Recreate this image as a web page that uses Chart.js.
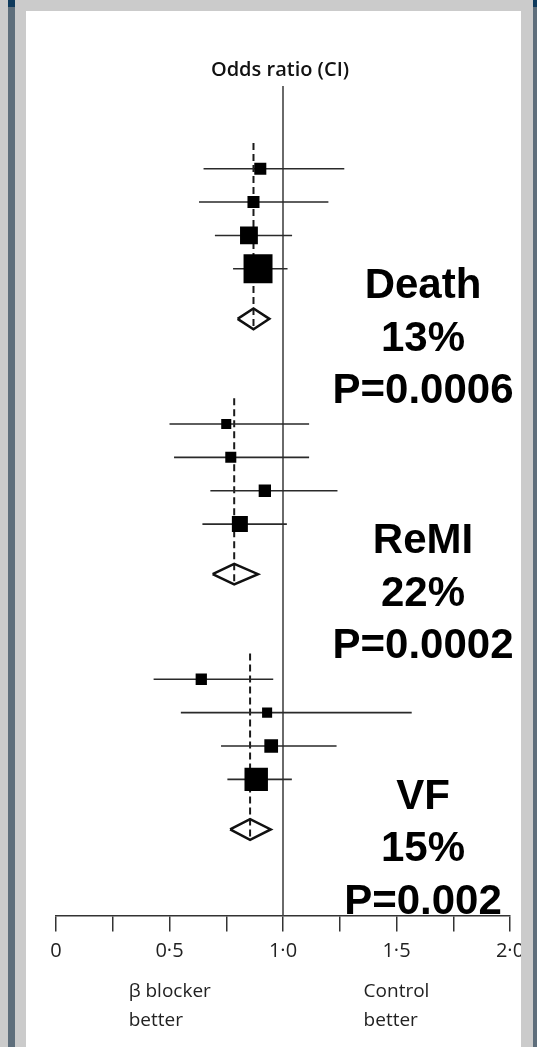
<!DOCTYPE html>
<html>
<head>
<meta charset="utf-8">
<title>Beta blocker odds ratios</title>
<script src="https://cdn.jsdelivr.net/npm/chart.js@4.4.1/dist/chart.umd.min.js"></script>
<style>
  html, body { margin: 0; padding: 0; }
  body { width: 537px; height: 1047px; background: #cbcbcb; position: relative; overflow: hidden; }
  .strip { position: absolute; top: 0; height: 1047px; background: #5e6e7b; }
  .strip::before { content: ""; position: absolute; left: 0; top: 0; width: 100%; height: 7px; background: #0f3a5c; }
  #stripLeft { left: 8px; width: 7px; }
  #stripRight { left: 533px; width: 4px; }
  #panel { position: absolute; left: 26px; top: 11px; width: 495px; height: 1036px; background: #fff; overflow: hidden; }
  #panel canvas { position: absolute; left: 0; top: 0; }
</style>
</head>
<body>
<div class="strip" id="stripLeft"></div>
<div class="strip" id="stripRight"></div>
<div id="panel">
  <canvas id="forest" width="530" height="1036"></canvas>
</div>

<script>
// --- data ---
const groups = ["Death", "ReMI", "VF"];
const summaryText = [
  ["Death", "13%", "P=0.0006"],
  ["ReMI", "22%", "P=0.0002"],
  ["VF", "15%", "P=0.002"]
];

// odds ratio, lower / upper CI, relative weight for each trial
const deathOR     = [0.90, 0.87, 0.85, 0.89];
const deathLow    = [0.65, 0.63, 0.70, 0.78];
const deathHigh   = [1.27, 1.20, 1.04, 1.02];
const deathWeight = [10, 10, 22, 58];
const deathPooled = [0.80, 0.87, 0.94];   // low, estimate, high

const remiOR     = [0.75, 0.77, 0.92, 0.81];
const remiLow    = [0.50, 0.52, 0.68, 0.645];
const remiHigh   = [1.115, 1.115, 1.24, 1.017];
const remiWeight = [7, 8.4, 10.5, 17.7];
const remiPooled = [0.69, 0.785, 0.89];

const vfOR     = [0.64, 0.93, 0.948, 0.882];
const vfLow    = [0.43, 0.55, 0.727, 0.755];
const vfHigh   = [0.957, 1.567, 1.236, 1.039];
const vfWeight = [8.8, 7, 13, 38];
const vfPooled = [0.767, 0.855, 0.946];

// row slots (top to bottom) for the trials and the pooled diamond
const deathRows = [0, 1, 2, 3, 4.5];
const remiRows  = [7.65, 8.65, 9.65, 10.65, 12.15];
const vfRows    = [15.3, 16.3, 17.3, 18.3, 19.8];

const xTickValues = [0, 0.5, 1, 1.5, 2];
const xTickLabels = ["0", "0·5", "1·0", "1·5", "2·0"];
const axisTitle = "Odds ratio (CI)";
const leftNote = ["β blocker", "better"];
const rightNote = ["Control", "better"];

const table = [
  { or: deathOR, low: deathLow, high: deathHigh, w: deathWeight, pooled: deathPooled, rows: deathRows },
  { or: remiOR, low: remiLow, high: remiHigh, w: remiWeight, pooled: remiPooled, rows: remiRows },
  { or: vfOR, low: vfLow, high: vfHigh, w: vfWeight, pooled: vfPooled, rows: vfRows }
];

// --- datasets ---
const squarePoints = [];
const ciPoints = [];
const diamondPoints = [];
const dashSets = [];
const halfDiamond = 0.31;

table.forEach(g => {
  g.or.forEach((v, i) => {
    squarePoints.push({ x: v, y: g.rows[i], r: 2.69 * Math.sqrt(g.w[i]) });
    ciPoints.push({ x: g.low[i], y: g.rows[i] }, { x: g.high[i], y: g.rows[i] }, { x: null, y: null });
  });
  const d = g.rows[4];
  const [lo, est, hi] = g.pooled;
  diamondPoints.push(
    { x: lo, y: d }, { x: est, y: d - halfDiamond }, { x: hi, y: d },
    { x: est, y: d + halfDiamond }, { x: lo, y: d }, { x: null, y: null }
  );
  dashSets.push({
    data: [{ x: est, y: g.rows[0] - 0.77 }, { x: est, y: d + halfDiamond }],
    showLine: true, pointRadius: 0, borderColor: "#1a1a1a", borderWidth: 2, borderDash: [7, 4]
  });
});

const datasets = [
  {
    data: squarePoints,
    pointStyle: "rect",
    pointRadius: squarePoints.map(p => p.r),
    pointBackgroundColor: "#000",
    pointBorderWidth: 0
  },
  {
    data: diamondPoints,
    showLine: true, spanGaps: false, pointRadius: 0,
    borderColor: "#111", borderWidth: 2.5, borderJoinStyle: "miter"
  },
  {
    data: ciPoints,
    showLine: true, spanGaps: false, pointRadius: 0,
    borderColor: "#2a2a2a", borderWidth: 1.6
  },
  ...dashSets,
  {
    data: [{ x: 1, y: -2.478 }, { x: 1, y: 22.379 }],
    showLine: true, pointRadius: 0, borderColor: "#6a6a6a", borderWidth: 2
  }
];

// text written onto the plot
const annotate = {
  id: "annotate",
  afterDraw(chart) {
    const { ctx, scales: { x, y } } = chart;
    ctx.save();
    ctx.fillStyle = "#111";
    ctx.textAlign = "center";
    ctx.textBaseline = "middle";
    ctx.font = '600 20px "Open Sans"';
    ctx.fillText(axisTitle, x.getPixelForValue(1) - 3, 59);

    ctx.fillStyle = "#222";
    ctx.textAlign = "left";
    ctx.font = '19px "Open Sans"';
    leftNote.forEach((t, i) => ctx.fillText(t, x.getPixelForValue(0.32), 981 + i * 29));
    rightNote.forEach((t, i) => ctx.fillText(t, x.getPixelForValue(1.355), 981 + i * 29));

    ctx.fillStyle = "#000";
    ctx.textAlign = "center";
    ctx.textBaseline = "alphabetic";
    ctx.font = 'bold 42px "Liberation Sans", Arial, sans-serif';
    table.forEach((g, i) => {
      const top = y.getPixelForValue(g.rows[0]);
      summaryText[i].forEach((line, j) => ctx.fillText(line, 397, top + 129.5 + j * 52.5));
    });
    ctx.restore();
  }
};

new Chart(document.getElementById("forest"), {
  type: "scatter",
  data: { datasets },
  options: {
    responsive: false,
    animation: false,
    events: [],
    layout: { padding: { top: 75, left: 30, right: 46, bottom: 75.5 } },
    plugins: { legend: { display: false }, tooltip: { enabled: false } },
    scales: {
      x: {
        type: "linear",
        min: 0,
        max: 2,
        border: { display: true, color: "#333", width: 1.5 },
        grid: { drawOnChartArea: false, drawTicks: true, tickLength: 16, color: "#333", lineWidth: 1.5 },
        ticks: {
          stepSize: 0.25,
          padding: 8,
          color: "#222",
          font: { family: "Open Sans", size: 20 },
          maxRotation: 0,
          autoSkip: false,
          callback: v => {
            const i = xTickValues.findIndex(t => Math.abs(t - v) < 1e-6);
            return i >= 0 ? xTickLabels[i] : "";
          }
        }
      },
      y: {
        type: "linear",
        display: false,
        reverse: true,
        min: -2.478,
        max: 22.379
      }
    }
  },
  plugins: [annotate]
});
</script>
</body>
</html>
